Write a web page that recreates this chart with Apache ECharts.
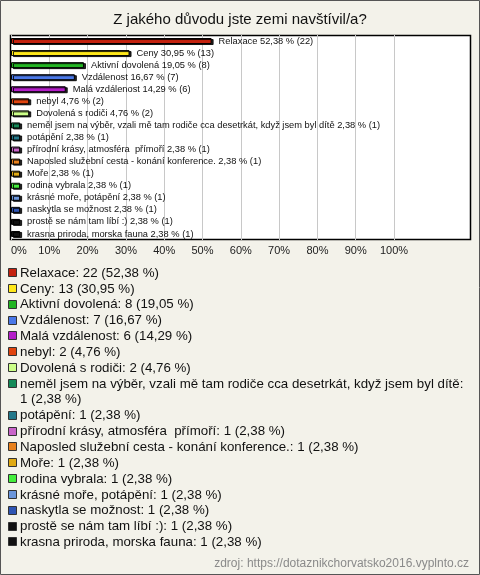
<!DOCTYPE html>
<html><head><meta charset="utf-8">
<script src="https://cdn.jsdelivr.net/npm/echarts@6/dist/echarts.min.js"></script>
<style>html,body{margin:0;padding:0;background:#f3f2ea}#c{width:480px;height:575px}</style>
</head><body><div id="c"></div>
<script>
const title = 'Z jakého důvodu jste zemi navštívil/a?';
const categories = ['Relaxace','Ceny','Aktivní dovolená','Vzdálenost','Malá vzdálenost','nebyl','Dovolená s rodiči',
 'neměl jsem na výběr, vzali mě tam rodiče cca desetrkát, když jsem byl dítě','potápění','přírodní krásy, atmosféra  přímoří',
 'Naposled služební cesta - konání konference.','Moře','rodina vybrala','krásné moře, potápění','naskytla se možnost',
 'prostě se nám tam líbí :)','krasna priroda, morska fauna'];
const counts = [22,13,8,7,6,2,2,1,1,1,1,1,1,1,1,1,1];
const percents = [52.38,30.95,19.05,16.67,14.29,4.76,4.76,2.38,2.38,2.38,2.38,2.38,2.38,2.38,2.38,2.38,2.38];
const colors = ['#c4220f','#ffe81a','#22b522','#4a78e8','#b41ec8','#e0440f','#ccff88','#148a58','#23788a','#c964c9',
 '#e8801c','#e0aa14','#44ee3c','#6b96dc','#2f55b4','#111111','#111111'];
const tickLabels = ['0%','10%','20%','30%','40%','50%','60%','70%','80%','90%','100%'];
const source = 'zdroj: https://dotaznikchorvatsko2016.vyplnto.cz';

const fmt = v => v.toFixed(2).replace('.', ',');
const chart = echarts.init(document.getElementById('c'));

const graphics = [
  {type:'rect', z:-20, shape:{x:0.5,y:0.5,width:479,height:574}, style:{fill:'#f3f2ea',stroke:'#555',lineWidth:1}},
  {type:'rect', z:-10, shape:{x:10.5,y:35.5,width:460,height:204}, style:{fill:'#ffffff',stroke:'#000',lineWidth:1.5}},
  {type:'text', z:5, x:240, y:20, style:{text:title, font:'15px "Liberation Sans", Arial, sans-serif', fill:'#111', align:'center', verticalAlign:'middle'}},
  {type:'text', z:5, x:469, y:564, style:{text:source, font:'12px "Liberation Sans", Arial, sans-serif', fill:'#8a8a8a', align:'right', verticalAlign:'middle'}}
];
// legend
const legendFont = '13.3px "Liberation Sans", Arial, sans-serif';
const ctx = document.createElement('canvas').getContext('2d');
ctx.font = legendFont;
let y = 273; const step = 15.85, maxW = 446;
categories.forEach((c,i)=>{
  const full = c + ': ' + counts[i] + ' (' + fmt(percents[i]) + ' %)';
  let lines = [full];
  if (ctx.measureText(full).width > maxW) {
    const words = full.split(' '); lines = []; let cur = '';
    words.forEach(w=>{ const t = cur ? cur + ' ' + w : w; if (ctx.measureText(t).width > maxW && cur) { lines.push(cur); cur = w; } else cur = t; });
    if (cur) lines.push(cur);
  }
  graphics.push({type:'rect', z:5, shape:{x:8.5,y:Math.round(y)-4.5,width:8,height:8}, style:{fill:colors[i],stroke:'#333',lineWidth:1}});
  lines.forEach((ln,k)=>{
    graphics.push({type:'text', z:5, x:20, y:y + k*step, style:{text:ln, font:legendFont, fill:'#111', verticalAlign:'middle'}});
  });
  y += step*lines.length;
});

chart.setOption({
  animation:false,
  backgroundColor:'#f3f2ea',
  grid:{left:11, top:35, width:383, height:205, containLabel:false},
  xAxis:{type:'value', min:0, max:100, interval:10,
    axisLine:{show:false}, axisTick:{show:false},
    splitLine:{show:true, lineStyle:{color:'#c8c8c8', width:1}},
    axisLabel:{margin:5, color:'#222', fontSize:11, alignMinLabel:'left', fontFamily:'"Liberation Sans", Arial, sans-serif',
      formatter:(v)=>tickLabels[Math.round(v/10)] || ''}},
  yAxis:{type:'category', data:categories, inverse:true, show:false},
  graphic:graphics,
  series:[{
    type:'bar', barWidth:6,
    data:percents.map((p,i)=>({value:p, itemStyle:{color:colors[i]}})),
    itemStyle:{borderColor:'#000', borderWidth:1, shadowColor:'rgba(0,0,0,0.85)', shadowOffsetX:2, shadowOffsetY:1, shadowBlur:0},
    label:{show:true, position:'right', distance:7, color:'#111', fontSize:9.3, fontFamily:'"Liberation Sans", Arial, sans-serif',
      formatter:(p)=>categories[p.dataIndex] + ' ' + fmt(percents[p.dataIndex]) + ' % (' + counts[p.dataIndex] + ')'}
  }]
});
</script></body></html>
